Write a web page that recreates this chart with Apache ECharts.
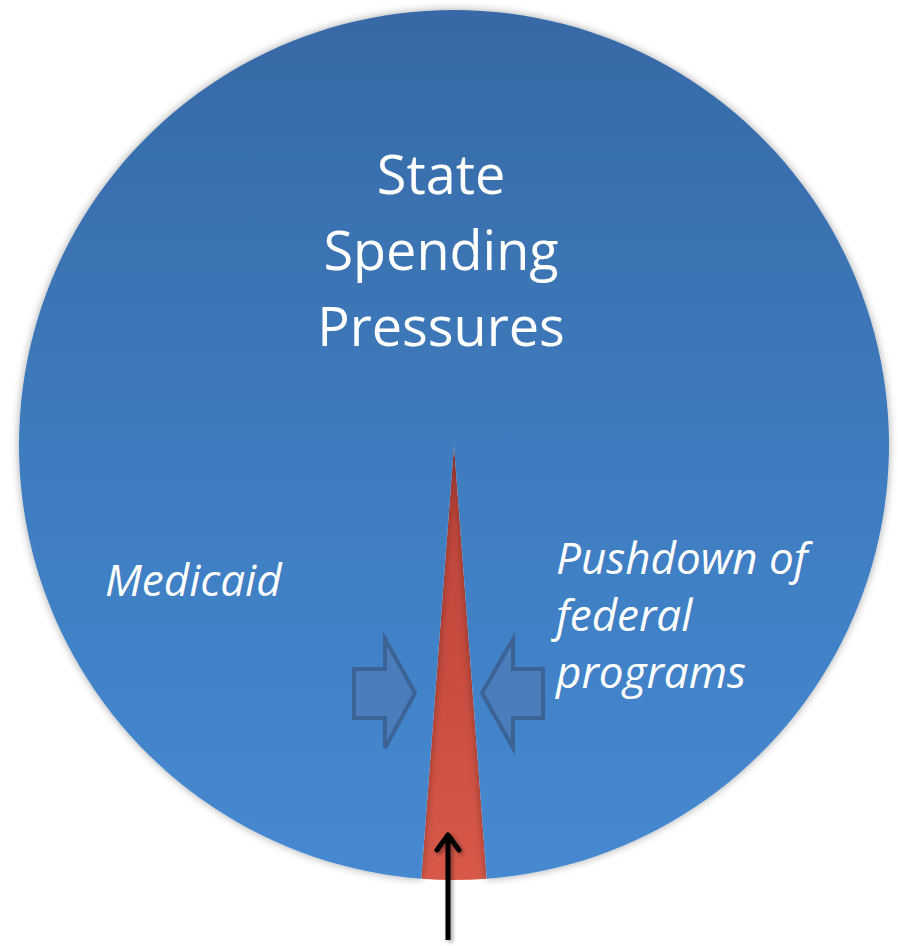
<!DOCTYPE html>
<html>
<head>
<meta charset="utf-8">
<script src="https://cdn.jsdelivr.net/npm/echarts@6/dist/echarts.min.js"></script>
<style>
  html, body { margin: 0; padding: 0; background: #fff; }
  #chart { width: 898px; height: 946px; }
</style>
</head>
<body>
<div id="chart"></div>
<script>
// slices of the pie (share of state budget)
const sliceNames = ['Remaining room', 'State Spending Pressures'];
const sliceValues = [2.4, 97.6];
const sliceColors = [['#bf453b', '#c94d40', '#d8594a'], ['#3769a6', '#3e7dc0', '#4689d1']];

// annotation texts
const titleLines = ['State', 'Spending', 'Pressures'];
const leftNote = 'Medicaid';
const rightNote = ['Pushdown of', 'federal', 'programs'];

const chart = echarts.init(document.getElementById('chart'), null, { renderer: 'svg' });

// red slice centred on the bottom of the circle
const redAngle = sliceValues[0] / (sliceValues[0] + sliceValues[1]) * 360;

const blockArrow = (pts) => ({
  type: 'polygon',
  shape: { points: pts },
  style: { fill: '#4b7dbd', stroke: '#3c6396', lineWidth: 4, lineJoin: 'miter' },
  z: 10
});

const shadow = { shadowBlur: 4, shadowOffsetX: 2, shadowOffsetY: 2, shadowColor: 'rgba(0,0,0,0.4)' };

const option = {
  animation: false,
  series: [{
    type: 'pie',
    center: [454, 445],
    radius: 435,
    startAngle: 270 + redAngle / 2,
    clockwise: true,
    label: { show: false },
    labelLine: { show: false },
    emphasis: { disabled: true },
    data: sliceNames.map((name, i) => ({
      name,
      value: sliceValues[i],
      itemStyle: {
        color: new echarts.graphic.LinearGradient(0, 0, 0, 1, [
          { offset: 0, color: sliceColors[i][0] },
          { offset: 0.55, color: sliceColors[i][1] },
          { offset: 1, color: sliceColors[i][2] }
        ]),
        borderWidth: 0,
        shadowBlur: i === 1 ? 8 : 0,
        shadowColor: 'rgba(0,0,0,0.35)'
      }
    }))
  }],
  graphic: [
    {
      type: 'text',
      x: 441, y: 135,
      style: {
        text: titleLines.join('\n'),
        align: 'center',
        fill: '#fff',
        font: '54px "Open Sans", sans-serif',
        lineHeight: 76
      },
      z: 20
    },
    {
      type: 'text',
      x: 105, y: 557,
      style: {
        text: leftNote,
        fill: '#fff',
        font: 'italic 44px "Open Sans", sans-serif'
      },
      z: 20
    },
    {
      type: 'text',
      x: 556, y: 528,
      style: {
        text: rightNote.join('\n'),
        fill: '#fff',
        font: 'italic 44px "Open Sans", sans-serif',
        lineHeight: 57
      },
      z: 20
    },
    blockArrow([[354, 669], [385, 669], [385, 639], [415, 693], [385, 748], [385, 718], [354, 718]]),
    blockArrow([[543, 669], [513, 669], [513, 639], [482, 693], [513, 748], [513, 718], [543, 718]]),
    // black pointer arrow under the red slice
    {
      type: 'rect',
      shape: { x: 445.5, y: 836, width: 5, height: 104 },
      style: Object.assign({ fill: '#000' }, shadow),
      z: 30
    },
    {
      type: 'polyline',
      shape: { points: [[437, 850], [448, 835], [459, 850]] },
      style: Object.assign({ fill: 'none', stroke: '#000', lineWidth: 5, lineCap: 'round', lineJoin: 'round' }, shadow),
      z: 30
    }
  ]
};

chart.setOption(option);
</script>
</body>
</html>
